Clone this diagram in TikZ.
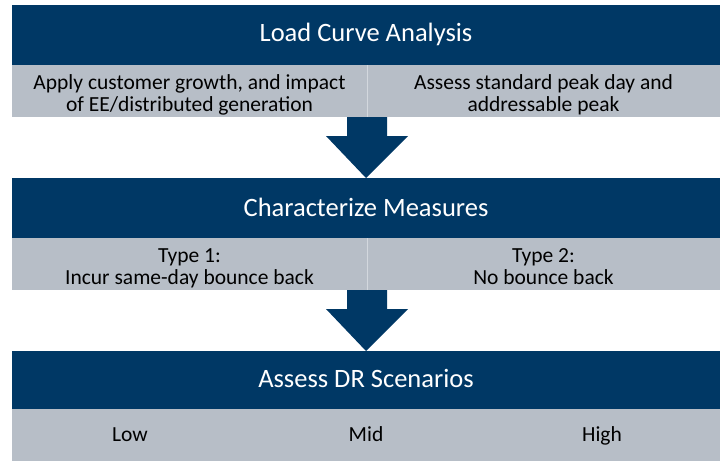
\documentclass[tikz,border=0pt]{standalone}
\usepackage{fontspec}
\setmainfont{Carlito}
\usetikzlibrary{calc}
\definecolor{navy}{HTML}{003865}
\definecolor{slate}{HTML}{B7BEC7}
\definecolor{divline}{HTML}{D3D8DE}
\newcommand{\cellTop}{\rule{0pt}{24pt}}
\newcommand{\cellBot}{\rule[-5.5pt]{0pt}{5.5pt}}
\begin{document}
\begin{tikzpicture}[x=1pt,y=-1pt,
  headbar/.style={fill=navy, text=white, font=\fontsize{26.5}{30}\selectfont,
    minimum width=708pt, minimum height=60pt, inner sep=0pt, outer sep=0pt, anchor=north west,
    text height=36.5pt, text depth=23.5pt},
  cellbox/.style={fill=slate, text=black, font=\fontsize{21.5}{22.5}\selectfont, align=center,
    minimum height=52pt, inner sep=0pt, outer sep=0pt, anchor=north west},
  onecell/.style={fill=slate, text=black, font=\fontsize{21.5}{22.5}\selectfont,
    minimum height=52pt, inner sep=0pt, outer sep=0pt, anchor=north west,
    text height=32pt, text depth=20pt},
  flowarrow/.style={fill=navy},
  divider/.style={draw=divline, line width=1pt}
]
\useasboundingbox (0,0) rectangle (726,461);
\fill[white] (0,0) rectangle (726,461);

% Row 1
\node[headbar] (h1) at (12,5) {Load Curve Analysis};
\node[cellbox, minimum width=355pt] (c1a) at (12,65) {\cellTop Apply customer growth, and impact\\of EE/distributed generation\cellBot};
\node[cellbox, minimum width=353pt] (c1b) at (367,65) {\cellTop Assess standard peak day and\\addressable peak\cellBot};
\draw[divider] (c1a.north east) -- (c1a.south east);

% Row 2
\node[headbar, text height=38pt, text depth=22pt] (h2) at (12,178) {Characterize Measures};
\node[cellbox, minimum width=355pt] (c2a) at (12,238) {\cellTop Type 1:\\Incur same-day bounce back\cellBot};
\node[cellbox, minimum width=353pt] (c2b) at (367,238) {\cellTop Type 2:\\No bounce back\cellBot};
\draw[divider] (c2a.north east) -- (c2a.south east);

% Row 3
\node[headbar, minimum height=58pt, text height=36pt, text depth=22pt] (h3) at (12,351) {Assess DR Scenarios};
\node[onecell, minimum width=236pt] (c3a) at (12,409) {Low};
\node[onecell, minimum width=236pt] (c3b) at (248,409) {Mid};
\node[onecell, minimum width=236pt] (c3c) at (484,409) {High};

% Arrows
\fill[flowarrow] ($(c1a.south east)+(-20,0)$) -- ++(40,0) -- ++(0,19) -- ++(21,0)
  -- (h2.north) -- ($(c1a.south east)+(-41,19)$) -- ++(21,0) -- cycle;
\fill[flowarrow] ($(c2a.south east)+(-20,0)$) -- ++(40,0) -- ++(0,19) -- ++(21,0)
  -- (h3.north) -- ($(c2a.south east)+(-41,19)$) -- ++(21,0) -- cycle;
\end{tikzpicture}
\end{document}
